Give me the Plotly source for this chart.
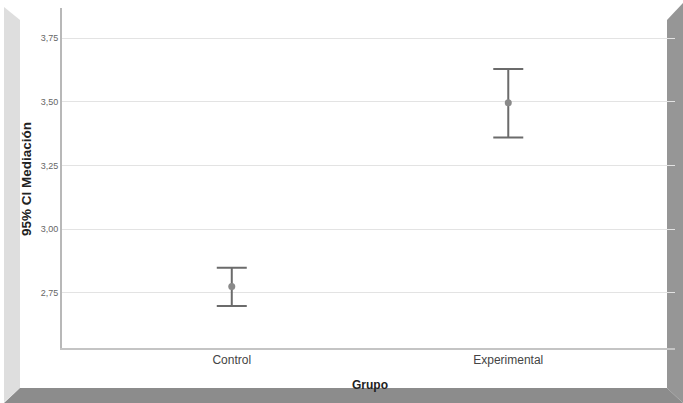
import plotly.graph_objects as go

groups = ["Control", "Experimental"]
means = [2.774, 3.496]
ci_lower = [2.698, 3.360]
ci_upper = [2.848, 3.628]
y_ticks = [2.75, 3.00, 3.25, 3.50, 3.75]
y_tick_labels = ["2,75", "3,00", "3,25", "3,50", "3,75"]

W, H = 683, 403
L, R, T, B = 62, 8, 8, 55
pw, ph = W - L - R, H - T - B


def px(x):
    return (x - L) / pw


def py(y):
    return (H - B - y) / ph


def poly(pts):
    return "M " + " L ".join(f"{px(a):.5f},{py(b):.5f}" for a, b in pts) + " Z"


xpos = list(range(len(groups)))
plus = [u - m for u, m in zip(ci_upper, means)]
minus = [m - l for m, l in zip(means, ci_lower)]

fig = go.Figure()
fig.add_trace(go.Scatter(
    x=xpos, y=means, mode="markers",
    marker=dict(size=7, color="#8a8a8a"),
    error_y=dict(type="data", symmetric=False, array=plus, arrayminus=minus,
                 color="#6b6b6b", thickness=2, width=15),
    showlegend=False, hoverinfo="skip",
))

shapes = [
    dict(type="path", xref="paper", yref="paper", layer="below",
         path=poly([(4, 7), (20, 20), (20, 388), (4, 402)]),
         fillcolor="#dedede", line=dict(width=0)),
    dict(type="path", xref="paper", yref="paper", layer="below",
         path=poly([(667, 20), (683, 3), (683, 403), (667, 388)]),
         fillcolor="#969696", line=dict(width=0)),
    dict(type="path", xref="paper", yref="paper", layer="below",
         path=poly([(20, 388), (667, 388), (683, 403), (4, 403)]),
         fillcolor="#8c8c8c", line=dict(width=0)),
]

fig.update_layout(
    width=W, height=H,
    margin=dict(l=L, r=R, t=T, b=B),
    paper_bgcolor="white",
    plot_bgcolor="rgba(0,0,0,0)",
    font=dict(family="Liberation Sans, Arial, sans-serif", color="#444"),
    shapes=shapes,
    xaxis=dict(
        range=[-0.614, 1.603], tickvals=xpos, ticktext=groups,
        showgrid=False, zeroline=False,
        showline=True, linecolor="#c4c4c4", linewidth=1.5,
        tickfont=dict(size=12, color="#444"), ticks="",
    ),
    yaxis=dict(
        range=[2.533, 3.868], tickvals=y_ticks, ticktext=y_tick_labels,
        showgrid=True, gridcolor="#e3e3e3", gridwidth=1, zeroline=False,
        showline=True, linecolor="#b8b8b8", linewidth=2,
        tickfont=dict(size=9, color="#666"), ticks="",
    ),
    annotations=[
        dict(text="<b>Grupo</b>", xref="paper", yref="paper",
             x=px(370), y=py(385), xanchor="center", yanchor="middle",
             showarrow=False, font=dict(size=12, color="#222")),
        dict(text="<b>95% CI Mediación</b>", xref="paper", yref="paper",
             x=px(26), y=py(179), xanchor="center", yanchor="middle",
             textangle=-90, showarrow=False, font=dict(size=13.5, color="#222")),
    ],
)

fig.write_html(
    "out.html",
    config={"displayModeBar": False},
    post_script="document.body.style.margin='0';document.body.style.overflow='hidden';",
)
